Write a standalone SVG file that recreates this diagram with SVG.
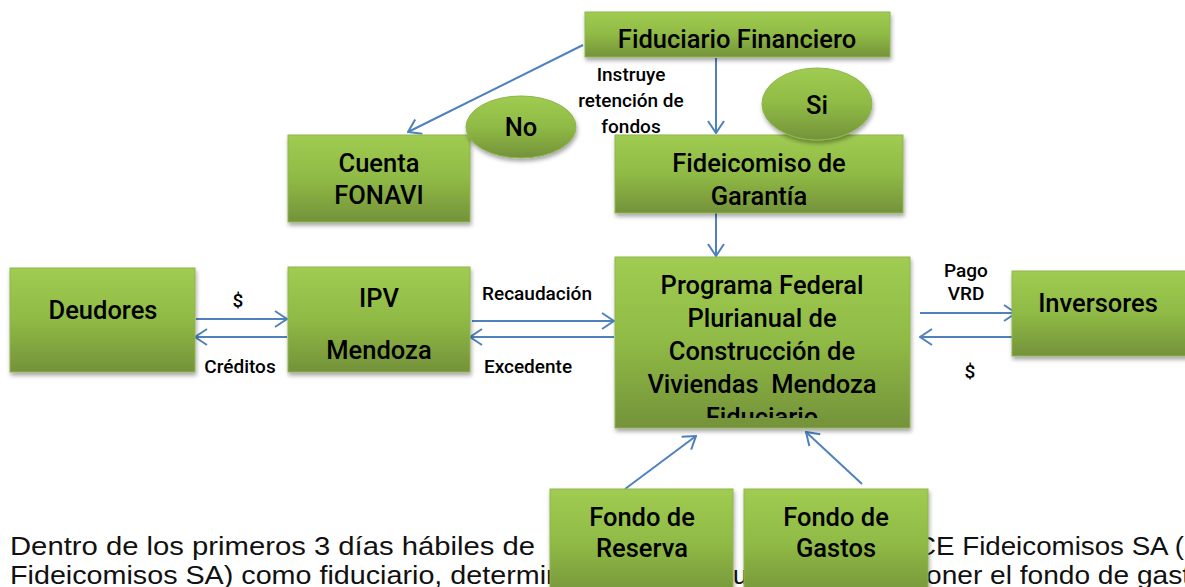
<svg xmlns="http://www.w3.org/2000/svg" width="1185" height="587" viewBox="0 0 1185 587">
<style>
.nd{fill:url(#g);stroke:#8FB54E;stroke-width:1;filter:url(#sh)}
.lb{font-family:Roboto,"Liberation Sans",sans-serif;font-weight:500;font-size:25.5px;fill:#000;text-anchor:middle}
.cl{font-family:Roboto,"Liberation Sans",sans-serif;font-weight:500;font-size:19px;fill:#000;text-anchor:middle}
.bt{font-family:"Liberation Sans",Arial,sans-serif;font-size:26px;fill:#111}
.cn{stroke:#4F81BD;stroke-width:2;fill:none;marker-end:url(#ar)}
</style>
<defs>
<linearGradient id="g" x1="0" y1="0" x2="0" y2="1">
<stop offset="0" stop-color="#A0CC52"/>
<stop offset="0.5" stop-color="#8FBA45"/>
<stop offset="1" stop-color="#74923A"/>
</linearGradient>
<filter id="sh" x="-10%" y="-10%" width="125%" height="130%">
<feDropShadow dx="1" dy="3" stdDeviation="2" flood-color="#000" flood-opacity="0.35"/>
</filter>
<marker id="ar" markerWidth="14" markerHeight="18" refX="13" refY="9" orient="auto" markerUnits="userSpaceOnUse">
<path d="M1,1 L13,9 L1,17" fill="none" stroke="#4F81BD" stroke-width="2"/>
</marker>
<clipPath id="pc"><rect x="615" y="257" width="295" height="161"/></clipPath>
</defs>

<g id="texto">
<text class="bt" x="10" y="555" textLength="525" lengthAdjust="spacingAndGlyphs">Dentro de los primeros 3 días hábiles de</text>
<text class="bt" x="916" y="555" textLength="268" lengthAdjust="spacingAndGlyphs">CE Fideicomisos SA (</text>
<text class="bt" x="10" y="584" textLength="552" lengthAdjust="spacingAndGlyphs">Fideicomisos SA) como fiduciario, determin</text>
<text class="bt" x="733" y="584">u</text>
<text class="bt" x="926" y="584" textLength="264" lengthAdjust="spacingAndGlyphs">oner el fondo de gast</text>
</g>

<g id="connectors">
<line class="cn" x1="583" y1="45" x2="408" y2="132"/>
<line class="cn" x1="716" y1="58" x2="716" y2="133"/>
<line class="cn" x1="716" y1="213" x2="716" y2="256"/>
<line class="cn" x1="196" y1="319" x2="287" y2="319"/>
<line class="cn" x1="287" y1="337" x2="195" y2="337"/>
<line class="cn" x1="472" y1="321" x2="614" y2="321"/>
<line class="cn" x1="614" y1="337" x2="470" y2="337"/>
<line class="cn" x1="920" y1="313" x2="1016" y2="313"/>
<line class="cn" x1="1016" y1="337" x2="920" y2="337"/>
<line class="cn" x1="625" y1="489" x2="696" y2="436"/>
<line class="cn" x1="862" y1="484" x2="806" y2="432"/>
<text class="cl" x="631" y="81">Instruye</text>
<text class="cl" x="631" y="107">retención de</text>
<text class="cl" x="631" y="133">fondos</text>
<text class="cl" x="238" y="307">$</text>
<text class="cl" x="240" y="373">Créditos</text>
<text class="cl" x="537" y="300">Recaudación</text>
<text class="cl" x="528" y="373">Excedente</text>
<text class="cl" x="966" y="277">Pago</text>
<text class="cl" x="966" y="300">VRD</text>
<text class="cl" x="970" y="378">$</text>
</g>

<g id="fiduciario-financiero">
<rect class="nd" x="585" y="12" width="305" height="45"/>
<text class="lb" x="737" y="48">Fiduciario Financiero</text>
</g>
<g id="cuenta-fonavi">
<rect class="nd" x="288" y="135" width="182" height="87"/>
<text class="lb" x="379" y="172">Cuenta</text>
<text class="lb" x="379" y="204">FONAVI</text>
</g>
<g id="no">
<ellipse class="nd" cx="521" cy="127" rx="55" ry="31"/>
<text class="lb" x="521" y="136">No</text>
</g>
<g id="fideicomiso-garantia">
<rect class="nd" x="615" y="135" width="288" height="78"/>
<text class="lb" x="759" y="172">Fideicomiso de</text>
<text class="lb" x="759" y="205">Garantía</text>
</g>
<g id="si">
<ellipse class="nd" cx="817" cy="104" rx="55" ry="36"/>
<text class="lb" x="817" y="114">Si</text>
</g>
<g id="deudores">
<rect class="nd" x="10" y="268" width="185" height="104"/>
<text class="lb" x="103" y="319">Deudores</text>
</g>
<g id="ipv-mendoza">
<rect class="nd" x="288" y="267" width="182" height="105"/>
<text class="lb" x="379" y="307">IPV</text>
<text class="lb" x="379" y="359">Mendoza</text>
</g>
<g id="programa-federal">
<rect class="nd" x="615" y="257" width="295" height="171"/>
<g clip-path="url(#pc)">
<text class="lb" x="762" y="294">Programa Federal</text>
<text class="lb" x="762" y="327">Plurianual de</text>
<text class="lb" x="762" y="360">Construcción de</text>
<text class="lb" x="762" y="393" xml:space="preserve">Viviendas  Mendoza</text>
<text class="lb" x="762" y="426">Fiduciario</text>
</g>
</g>
<g id="inversores">
<rect class="nd" x="1012" y="271" width="180" height="85"/>
<text class="lb" x="1098" y="312">Inversores</text>
</g>
<g id="fondo-reserva">
<rect class="nd" x="550" y="489" width="183" height="110"/>
<text class="lb" x="642" y="526">Fondo de</text>
<text class="lb" x="642" y="557">Reserva</text>
</g>
<g id="fondo-gastos">
<rect class="nd" x="744" y="489" width="184" height="110"/>
<text class="lb" x="836" y="526">Fondo de</text>
<text class="lb" x="836" y="557">Gastos</text>
</g>
</svg>
